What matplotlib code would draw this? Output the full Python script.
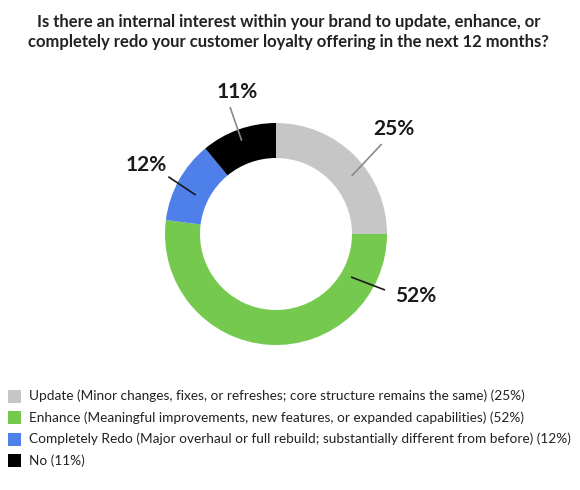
import matplotlib
matplotlib.use('Agg')
import matplotlib.pyplot as plt
from matplotlib.patches import Rectangle

# ---- data ----
title_lines = ["Is there an internal interest within your brand to update, enhance, or",
               "completely redo your customer loyalty offering in the next 12 months?"]
categories = ["Update (Minor changes, fixes, or refreshes; core structure remains the same)",
              "Enhance (Meaningful improvements, new features, or expanded capabilities)",
              "Completely Redo (Major overhaul or full rebuild; substantially different from before)",
              "No"]
values = [25, 52, 12, 11]
colors = ["#c6c6c6", "#76c94f", "#4f7fe8", "#000000"]

# ---- layout (pixel coords, y measured from top) ----
W, H = 580, 490
CX, CY, R, RING = 276, 234, 111, 35
label_pos = [(393.5, 129), (415.5, 296), (146, 165), (237, 92.5)]
line_start = [(351.7, 176), (351, 277), (195.7, 195), (241.7, 140.7)]
line_end = [(381.7, 144), (385, 290), (168.3, 176.7), (230, 107)]
line_colors = ["#8a8a8a", "#1a1a1a", "#1a1a1a", "#8a8a8a"]

plt.rcParams['font.family'] = ['Lato', 'DejaVu Sans']

fig = plt.figure(figsize=(W / 100, H / 100), dpi=100)
ax = fig.add_axes([0, 0, 1, 1])

def fy(y):
    return H - y

ax.pie(values, colors=colors, startangle=90, counterclock=False,
       radius=R, center=(CX, fy(CY)),
       wedgeprops=dict(width=RING, linewidth=0))
ax.set_xlim(0, W)
ax.set_ylim(0, H)
ax.set_aspect('auto')
ax.axis('off')

# title
ax.text(289, fy(26.7), title_lines[0], ha='center', va='baseline',
        fontsize=12.0, fontweight='bold', color='#222222')
ax.text(288, fy(46.7), title_lines[1], ha='center', va='baseline',
        fontsize=12.0, fontweight='bold', color='#222222')

# labels + leader lines
for v, (lx, ly), (sx, sy), (ex, ey), lc in zip(values, label_pos, line_start, line_end, line_colors):
    ax.plot([sx, ex], [fy(sy), fy(ey)], color=lc, lw=1.2, solid_capstyle='butt')
    ax.text(lx, fy(ly), f"{v}%", ha='center', va='center',
            fontsize=15, fontweight='bold', color='#1a1a1a')

# legend
row_y = [396, 417.5, 439, 460.7]
for cat, v, c, y in zip(categories, values, colors, row_y):
    ax.add_patch(Rectangle((8, fy(y) - 6.5), 13, 13, facecolor=c, edgecolor='none'))
    ax.text(29.3, fy(y), f"{cat} ({v}%)", ha='left', va='center',
            fontsize=9.85, color='#222222')

fig.savefig('out.png', dpi=100, facecolor='white')
